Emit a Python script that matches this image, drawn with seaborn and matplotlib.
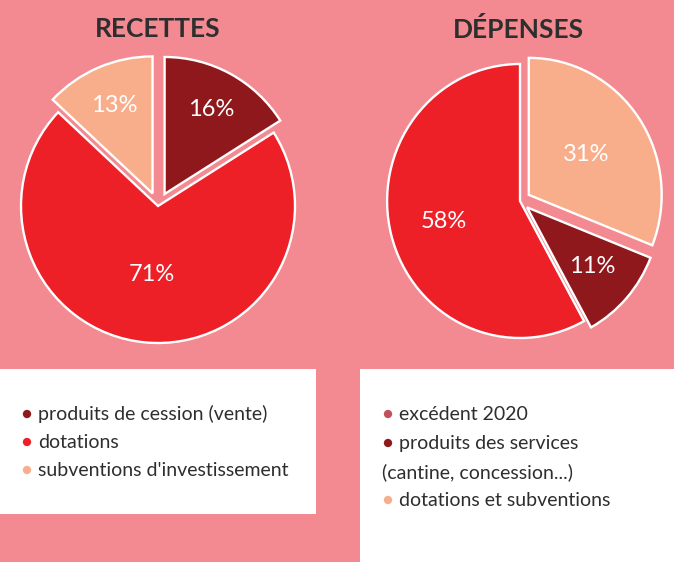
import matplotlib
matplotlib.use("Agg")
import numpy as np
import matplotlib.pyplot as plt
import seaborn as sns
from matplotlib.patches import Rectangle

# ------------------------ #
# Data
# ------------------------ #
recettes_labels = ["produits de cession (vente)", "dotations", "subventions d'investissement"]
recettes_values = [16, 71, 13]
recettes_colors = ["#8E181C", "#ED1F27", "#F8AE8A"]
recettes_explode = [0.1, 0.0, 0.1]
recettes_pct_dist = [0.8, 0.5, 0.8]

depenses_values = [31, 11, 58]
depenses_colors = ["#F8AE8A", "#8E181C", "#ED1F27"]
depenses_explode = [0.08, 0.07, 0.0]
depenses_pct_dist = [0.6, 0.72, 0.59]

depenses_legend = ["excédent 2020", "produits des services", "dotations et subventions"]
depenses_legend_colors = ["#C4505A", "#8E181C", "#F8AE8A"]

# ------------------------ #
# Theme
# ------------------------ #
sns.set_theme(style="white")
plt.rcParams["font.family"] = ["Liberation Sans Narrow", "Lato", "DejaVu Sans"]

BG = "#F38A91"
TXT = "#2E2E2E"
W, H = 674, 562

fig = plt.figure(figsize=(W / 100, H / 100), dpi=100, facecolor=BG)

R = 137  # pie radius in pixels
LIM = 1.2


def pie_axes(cx, cy, xscale=1.0):
    side = 2 * LIM * R
    ax = fig.add_axes([(cx - side * xscale / 2) / W, 1 - (cy + side / 2) / H,
                       side * xscale / W, side / H])
    ax.axis("off")
    return ax


def draw_pie(ax, values, colors, explode, pct_dist):
    wedges, texts, autotexts = ax.pie(
        values, colors=colors, explode=explode, startangle=90, counterclock=False,
        autopct="%d%%", radius=1,
        wedgeprops=dict(edgecolor="white", linewidth=1.7),
        textprops=dict(color="white", fontsize=17),
    )
    # move each percentage to its own distance from the centre
    for w, t, d in zip(wedges, autotexts, pct_dist):
        ang = np.deg2rad((w.theta1 + w.theta2) / 2)
        t.set_position((d * np.cos(ang), d * np.sin(ang)))
    ax.set_aspect("auto")
    ax.set_xlim(-LIM, LIM)
    ax.set_ylim(-LIM, LIM)


ax1 = pie_axes(158, 206)
draw_pie(ax1, recettes_values, recettes_colors, recettes_explode, recettes_pct_dist)
ax2 = pie_axes(520, 201, xscale=0.97)
draw_pie(ax2, depenses_values, depenses_colors, depenses_explode, depenses_pct_dist)

# titles
fig.text(158 / W, 1 - 29 / H, "RECETTES", ha="center", va="center",
         fontsize=19, fontweight="bold", color=TXT)
fig.text(518 / W, 1 - 29 / H, "DÉPENSES", ha="center", va="center",
         fontsize=19, fontweight="bold", color=TXT)

# overlay axes in pixel coords for the legend boxes and entries
lax = fig.add_axes([0, 0, 1, 1], zorder=5)
lax.set_xlim(0, W)
lax.set_ylim(H, 0)
lax.axis("off")
lax.add_patch(Rectangle((0, 369), 316, 145, facecolor="white", edgecolor="none", zorder=0))
lax.add_patch(Rectangle((360, 369), 314, 193, facecolor="white", edgecolor="none", zorder=0))

row = 28
for i, (lab, col) in enumerate(zip(recettes_labels, recettes_colors)):
    y = 414 + i * row
    lax.scatter(27, y, s=36, color=col, edgecolor="none", zorder=2)
    lax.text(38, y, lab, va="center", ha="left", fontsize=14, color=TXT, zorder=2)

ys = [414, 443, 500]
for y, lab, col in zip(ys, depenses_legend, depenses_legend_colors):
    lax.scatter(388, y, s=36, color=col, edgecolor="none", zorder=2)
    lax.text(399, y, lab, va="center", ha="left", fontsize=14, color=TXT, zorder=2)
lax.text(382, 472, "(cantine, concession...)", va="center", ha="left",
         fontsize=14, color=TXT, zorder=2)

fig.savefig("out.png", dpi=100, facecolor=BG)
